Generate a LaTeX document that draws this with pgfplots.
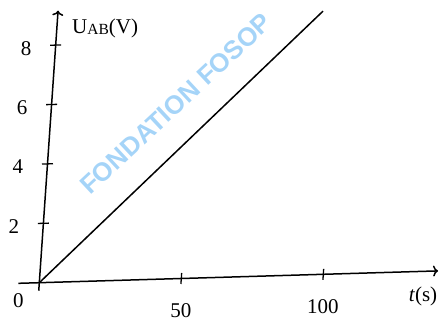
\documentclass[border=0pt]{standalone}
\usepackage{fontspec}
\setmainfont{Liberation Serif}
\newfontfamily\wmfont{Liberation Sans}
\usepackage{pgfplots}
\pgfplotsset{compat=1.18}
\usetikzlibrary{arrows.meta}
\definecolor{wmblue}{RGB}{165,212,248}
\begin{document}
\begin{tikzpicture}[font=\fontsize{21}{25}\selectfont]
\useasboundingbox (0,0) rectangle (443pt,320pt);
% watermark
\node[anchor=base west, rotate=43, inner sep=0pt, text=wmblue, font=\wmfont\bfseries\fontsize{26}{28}\selectfont] at (90pt,124pt) {FONDATION FOSOP};
\begin{axis}[
  anchor=origin, at={(39.3pt,37.3pt)},
  x={(2.84pt,0.084pt)}, y={(2.05pt,29.7pt)},
  axis lines=middle,
  xmin=-7.4, xmax=140.4, ymin=-0.27, ymax=9.16,
  axis line style={line width=1.5pt, -{To[length=5pt,width=11pt]}},
  xtick={50,100}, ytick={2,4,6,8},
  tick align=center,
  major tick length=11pt,
  tick style={line width=1.3pt, black},
  /pgf/number format/assume math mode=true,
  xticklabel style={anchor=center, inner sep=0pt, yshift=-27pt},
  yticklabel style={anchor=center, inner sep=0pt, xshift=-24pt, yshift=-3pt},
  xlabel={\textit{t}(s)},
  ylabel={U\raisebox{-1pt}{\fontsize{15.5}{17}\selectfont AB}(V)},
  every axis x label/.style={at={(axis cs:0,0)}, anchor=center, inner sep=0pt, xshift=383.7pt, yshift=-13.3pt},
  every axis y label/.style={at={(axis cs:0,0)}, anchor=base west, inner sep=0pt, xshift=32.7pt, yshift=249.4pt},
  clip=false,
]
\addplot[black, line width=1.5pt] coordinates {(0,0) (93.5,8.88)};
\node[anchor=center, inner sep=0pt, xshift=-21pt, yshift=-18pt] at (axis cs:0,0) {0};
\end{axis}
\end{tikzpicture}
\end{document}
